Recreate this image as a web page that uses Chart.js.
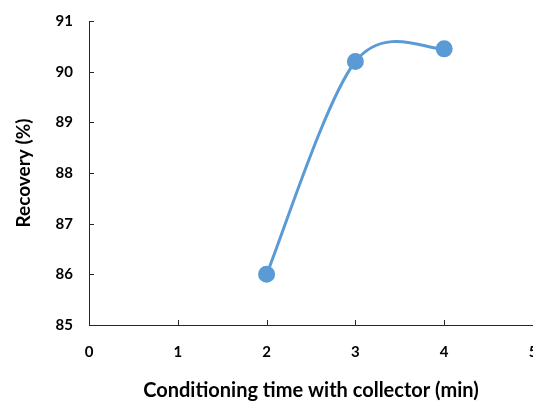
<!DOCTYPE html>
<html>
<head>
<meta charset="utf-8">
<script src="https://cdn.jsdelivr.net/npm/chart.js@4"></script>
<style>
html,body{margin:0;padding:0;background:#fff;overflow:hidden;}
canvas{display:block;}
</style>
</head>
<body>
<canvas id="c" width="543" height="401"></canvas>
<script>
const timeMin = [2, 3, 4];
const recovery = [86.0, 90.2, 90.45];
const xTicks = [0, 1, 2, 3, 4, 5];
const yTicks = [85, 86, 87, 88, 89, 90, 91];

// Excel-like smoothing: Catmull-Rom control points computed from the library's own point elements
const excelSmooth = {
  id: 'excelSmooth',
  beforeDatasetDraw(chart, args) {
    const meta = args.meta;
    const pts = meta.data;
    const n = pts.length;
    for (let i = 0; i < n; i++) {
      const p = pts[i];
      const prev = pts[Math.max(0, i - 1)];
      const next = pts[Math.min(n - 1, i + 1)];
      const tx = (next.x - prev.x) / 6;
      const ty = (next.y - prev.y) / 6;
      p.cp1x = p.x - tx; p.cp1y = p.y - ty;
      p.cp2x = p.x + tx; p.cp2y = p.y + ty;
    }
    if (meta.dataset) {
      meta.dataset._pointsUpdated = true;
      meta.dataset._path = undefined;
    }
  }
};

const innerTicks = {
  id: 'innerTicks',
  afterDraw(chart) {
    const {ctx, chartArea, scales} = chart;
    ctx.save();
    ctx.strokeStyle = '#262626';
    ctx.lineWidth = 1;
    xTicks.forEach(v => {
      const x = Math.round(scales.x.getPixelForValue(v)) + 0.5;
      ctx.beginPath(); ctx.moveTo(x, chartArea.bottom); ctx.lineTo(x, chartArea.bottom - 5); ctx.stroke();
    });
    yTicks.forEach(v => {
      const y = Math.round(scales.y.getPixelForValue(v)) + 0.5;
      ctx.beginPath(); ctx.moveTo(chartArea.left, y); ctx.lineTo(chartArea.left + 5, y); ctx.stroke();
    });
    ctx.restore();
  }
};

new Chart(document.getElementById('c'), {
  type: 'line',
  data: {
    datasets: [{
      data: timeMin.map((t, i) => ({x: t, y: recovery[i]})),
      borderColor: '#5B9BD5',
      backgroundColor: '#5B9BD5',
      borderWidth: 3,
      pointRadius: 7,
      pointHoverRadius: 7,
      tension: 0.4
    }]
  },
  options: {
    responsive: false,
    animation: false,
    layout: {padding: {left: 0, right: 0, top: 21, bottom: 0}},
    plugins: {legend: {display: false}, tooltip: {enabled: false}},
    scales: {
      x: {
        type: 'linear',
        min: 0, max: 5,
        afterBuildTicks: s => { s.ticks = xTicks.map(v => ({value: v})); },
        afterFit: s => { s.height = 76; },
        grid: {display: false, drawTicks: true, tickLength: 18},
        border: {display: true, color: '#262626', width: 1},
        ticks: {color: '#000', font: {family: 'Lato', weight: 'bold', size: 15}, padding: 0},
        title: {display: true, text: 'Conditioning time with collector (min)', color: '#000',
                font: {family: 'Lato', weight: 'bold', size: 20}, padding: {top: 12, bottom: -2}}
      },
      y: {
        min: 85, max: 91,
        afterBuildTicks: s => { s.ticks = yTicks.map(v => ({value: v})); },
        afterFit: s => { s.width = 89; },
        grid: {display: false, drawTicks: true, tickLength: 16},
        border: {display: true, color: '#262626', width: 1},
        ticks: {color: '#000', font: {family: 'Lato', weight: 'bold', size: 15}, padding: 0},
        title: {display: true, text: 'Recovery (%)', color: '#000',
                font: {family: 'Lato', weight: 'bold', size: 19}, padding: {top: 12}}
      }
    }
  },
  plugins: [excelSmooth, innerTicks]
});
</script>
</body>
</html>
